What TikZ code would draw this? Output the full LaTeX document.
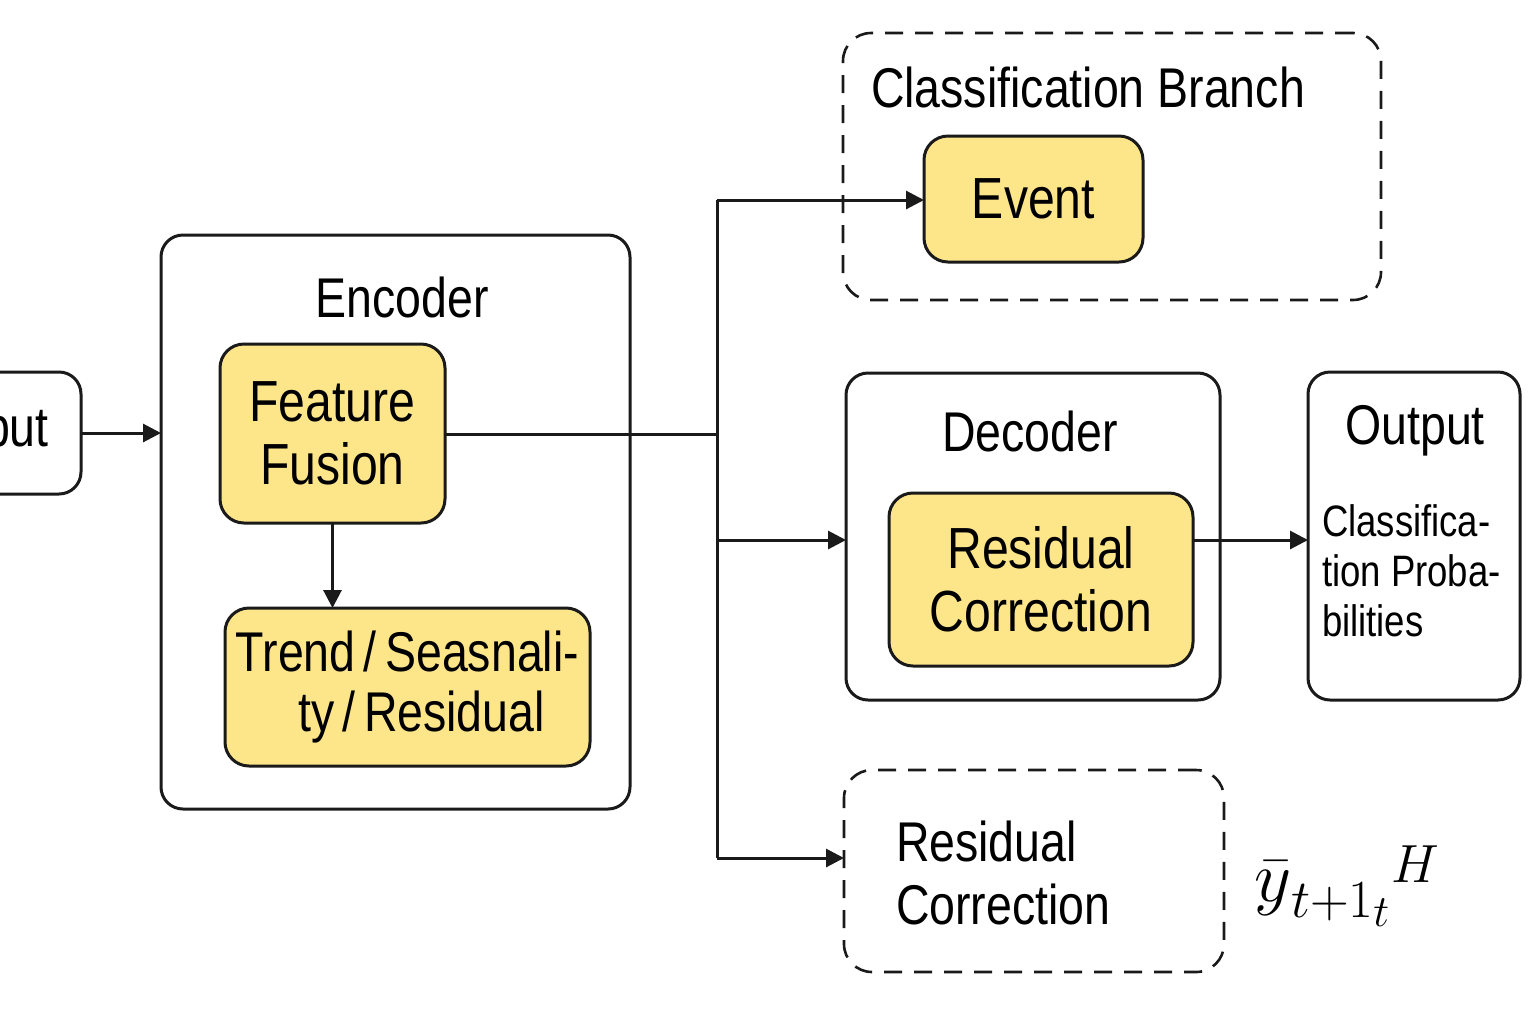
\documentclass[tikz,border=0pt]{standalone}
\usepackage{fontspec}
\usepackage{graphicx}
\setmainfont{Liberation Sans}[FakeStretch=0.83]
\usetikzlibrary{arrows.meta}
\definecolor{boxyellow}{HTML}{FDE68A}
\definecolor{ink}{HTML}{1A1A1A}
\tikzset{
  x=0.5pt, y=-0.5pt,
  every node/.style={inner sep=0pt, outer sep=0pt},
  plainbox/.style={draw=ink, line width=1.5pt, rounded corners=11pt, fill=white},
  yellowbox/.style={draw=ink, line width=1.5pt, rounded corners=12pt, fill=boxyellow, align=center, font=\fontsize{29}{31.5}\selectfont},
  dashbox/.style={draw=ink, line width=1.3pt, rounded corners=14pt, dash pattern=on 9pt off 6pt},
  titletext/.style={font=\fontsize{28}{30}\selectfont},
  conn/.style={draw=ink, line width=1.5pt},
  arr/.style={conn, -{Triangle[length=9pt,width=9pt]}},
}
\begin{document}
\begin{tikzpicture}
\useasboundingbox (0,0) rectangle (1536,1024);
\clip (0,0) rectangle (1536,1024);
\fill[white] (0,0) rectangle (1536,1024);

% Input
\node[plainbox, minimum width=84pt, minimum height=61pt, titletext] (inp) at (-3,433) {Input};

% Encoder
\node[plainbox, minimum width=234.5pt, minimum height=287pt] (enc) at (395.5,522) {};
\node[titletext] (enctitle) at (402,297) {Encoder};
\node[yellowbox, minimum width=112.5pt, minimum height=89.5pt] (ff) at (332.5,433.5) {Feature\\Fusion};
\node[yellowbox, minimum width=182.5pt, minimum height=79pt, font=\fontsize{28}{30}\selectfont] (trend) at (407.5,687) {Trend\hspace{0.15em}/\hspace{0.15em}Seasnali-\\\hspace*{14pt}ty\hspace{0.15em}/\hspace{0.15em}Residual};

% Classification branch
\node[dashbox, minimum width=269pt, minimum height=133.5pt] (cls) at (1112,166.5) {};
\node[titletext] (clstitle) at (1088,87) {Classification Branch};
\node[yellowbox, minimum width=109.5pt, minimum height=63pt] (event) at (1033.5,199) {Event};

% Decoder
\node[plainbox, minimum width=187pt, minimum height=163.5pt] (dec) at (1033,536.5) {};
\node[titletext] (dectitle) at (1030,431) {Decoder};
\node[yellowbox, minimum width=152pt, minimum height=86.5pt] (rc) at (1041,579.5) {Residual\\Correction};

% Output
\node[plainbox, minimum width=106pt, minimum height=164pt] (out) at (1414,536) {};
\node[titletext] (outtitle) at (1415,431) {Output};
\node[anchor=west, align=left, font=\fontsize{22}{25}\selectfont] (outtext) at (1322,571) {Classifica-\\tion Proba-\\bilities};

% Residual correction (dashed)
\node[dashbox, minimum width=190pt, minimum height=101pt] (rc2) at (1034,871) {};
\node[anchor=west, align=left, font=\fontsize{28}{31.5}\selectfont] (rc2text) at (896,873) {Residual\\Correction};

% Math label
\node[anchor=west, font=\fontsize{24.88}{30}\selectfont] (mathlbl) at (1254,886) {\scalebox{1.45}{$\bar{y}$}\scalebox{1.08}{$_{\textstyle t{+}1_{t}}{}^{\textstyle H}$}};

% Connectors
\coordinate (j) at (717,434);
\coordinate (jt) at (717,200);
\coordinate (jm) at (717,540);
\coordinate (jb) at (717,858);
\draw[arr] (inp.east) -- (inp.east -| enc.west);
\draw[arr] (ff.south) -- (ff.south |- trend.north);
\draw[conn] (ff.east |- j) -- (j);
\draw[conn] (jt) -- (jb);
\draw[arr] (jt) -- (jt -| event.west);
\draw[arr] (jm) -- (jm -| dec.west);
\draw[arr] (jb) -- (jb -| rc2.west);
\draw[arr] (rc.east |- jm) -- (out.west |- jm);
\end{tikzpicture}
\end{document}
